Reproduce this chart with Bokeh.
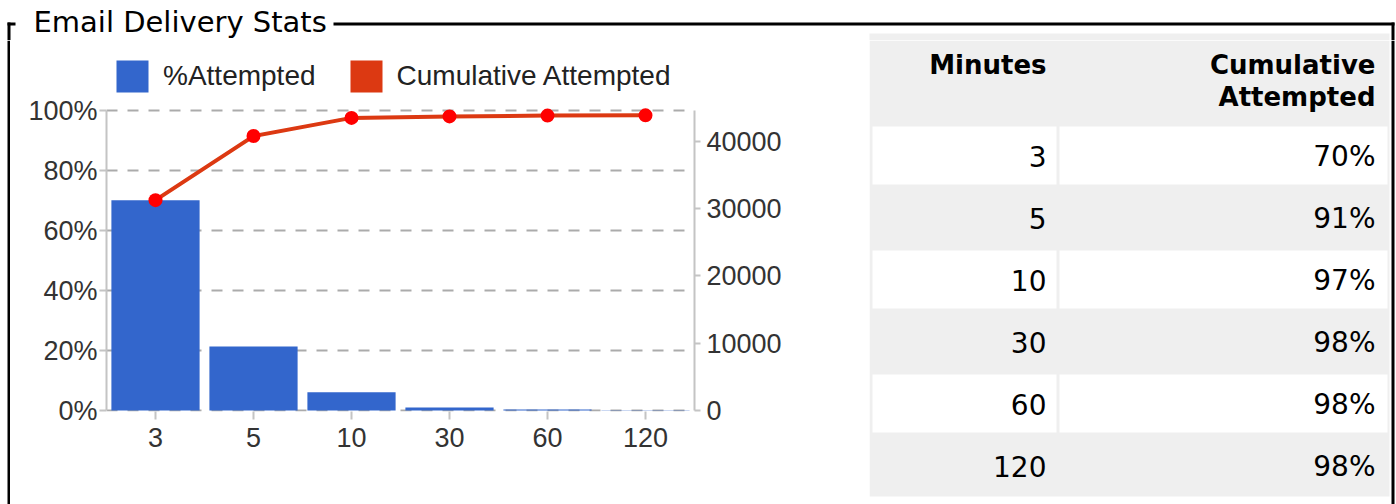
from bokeh.plotting import figure
from bokeh.models import (ColumnDataSource, FactorRange, Range1d, LinearAxis, FixedTicker,
                          PrintfTickFormatter, Legend, LegendItem)
from bokeh.layouts import row, column
from bokeh.core.properties import value
from bokeh.embed import file_html
from bokeh.resources import INLINE

# ---------------- data ----------------
title_text = "Email Delivery Stats"
minutes = ["3", "5", "10", "30", "60", "120"]
pct_attempted = [70.1, 21.3, 6.1, 1.0, 0.3, 0.1]                 # bars, left axis (%)
cumulative_attempted = [31270, 40800, 43500, 43720, 43840, 43880]  # line, right axis (count)
count_axis_max = 44600
pct_ticks = [0, 20, 40, 60, 80, 100]
count_ticks = [0, 10000, 20000, 30000, 40000]
series_names = ["%Attempted", "Cumulative Attempted"]
table_columns = ["Minutes", "Cumulative Attempted"]
table_cumulative = ["70%", "91%", "97%", "98%", "98%", "98%"]

# ---------------- styles ----------------
CHART_FONT = "Liberation Sans"
TABLE_FONT = "DejaVu Sans"
BAR_COLOR = "#3366cc"
LINE_COLOR = "#dc3912"
POINT_COLOR = "#ff0000"
AXIS_GREY = "#c4c4c4"
GRID_GREY = "#ababab"
TEXT_GREY = "#333333"
ROW_GREY = "#efefef"
PAD_LOW = 1.0 / 3.0   # keeps the 0% gridline inside the frame
PAD_HIGH = 18.0       # room above 100% for the legend


def canvas(x0, x1, y0, y1):
    f = figure(width=x1 - x0, height=y1 - y0, x_range=Range1d(x0, x1), y_range=Range1d(y1, y0),
               x_axis_type=None, y_axis_type=None, toolbar_location=None, output_backend="svg",
               min_border=0, outline_line_color=None, title=None)
    f.background_fill_color = "white"
    f.border_fill_color = "white"
    return f


# ---------------- top strip: fieldset legend and top edge ----------------
top = canvas(0, 1396, 0, 40)
top.quad(left=[7, 333, 7, 1391], right=[15, 1394, 10, 1394], top=[22, 22, 22, 22],
         bottom=[25, 25, 40, 40], fill_color="black", line_color=None)
top.quad(left=[869], right=[1389], top=[33], bottom=[40], fill_color=ROW_GREY, line_color=None)
top.text(x=[33], y=[21.5], text=[title_text], text_align="left", text_baseline="middle",
         text_font=value(TABLE_FONT), text_font_size=value("29px"), text_color="black")

# ---------------- side edges ----------------
left_border = canvas(0, 10, 40, 504)
left_border.quad(left=[7], right=[10], top=[40], bottom=[504], fill_color="black", line_color=None)

right_border = canvas(1390, 1396, 40, 504)
right_border.quad(left=[1391], right=[1394], top=[40], bottom=[504], fill_color="black", line_color=None)

# ---------------- chart ----------------
src = ColumnDataSource(dict(minutes=minutes, pct=pct_attempted, cum=cumulative_attempted))

p = figure(width=859, height=464, x_range=FactorRange(factors=minutes),
           y_range=Range1d(-PAD_LOW, 100 + PAD_HIGH),
           toolbar_location=None, output_backend="svg", title=None,
           min_border_left=96, min_border_right=175, min_border_top=16, min_border_bottom=93,
           outline_line_color=None)
p.background_fill_color = "white"
p.border_fill_color = "white"
k = count_axis_max / 100.0
p.extra_y_ranges = {"count": Range1d(-PAD_LOW * k, count_axis_max + PAD_HIGH * k)}

bars = p.vbar(x="minutes", top="pct", width=0.9, source=src, fill_color=BAR_COLOR, line_color=None)
# zero-height bars: invisible in the plot, give the legend its square swatch for the line series
swatch = p.vbar(x="minutes", top=0, bottom=0, width=0.9, source=src, y_range_name="count",
                fill_color=LINE_COLOR, line_color=None)
p.line(x="minutes", y="cum", source=src, y_range_name="count", line_color=LINE_COLOR, line_width=4)
p.scatter(x="minutes", y="cum", source=src, y_range_name="count", size=14,
          fill_color=POINT_COLOR, line_color=None)

# grid
p.xgrid.visible = False
p.ygrid.ticker = FixedTicker(ticks=pct_ticks)
p.ygrid.grid_line_color = GRID_GREY
p.ygrid.grid_line_width = 2
p.ygrid.grid_line_dash = "11 10"

# left axis
ly = p.yaxis[0]
ly.ticker = FixedTicker(ticks=pct_ticks)
ly.formatter = PrintfTickFormatter(format="%d%%")
ly.bounds = (0, 100)
ly.axis_line_color = AXIS_GREY
ly.axis_line_width = 2
ly.major_tick_line_color = AXIS_GREY
ly.major_tick_line_width = 2
ly.major_tick_in = 0
ly.major_tick_out = 7
ly.minor_tick_line_color = None
ly.major_label_standoff = 2
ly.major_label_text_font = CHART_FONT
ly.major_label_text_font_size = "27px"
ly.major_label_text_color = TEXT_GREY

# right axis
ry = LinearAxis(y_range_name="count", ticker=FixedTicker(ticks=count_ticks),
                formatter=PrintfTickFormatter(format="%d"), bounds=(0, count_axis_max))
ry.axis_line_color = AXIS_GREY
ry.axis_line_width = 2
ry.major_tick_line_color = AXIS_GREY
ry.major_tick_line_width = 2
ry.major_tick_in = 0
ry.major_tick_out = 6
ry.minor_tick_line_color = None
ry.major_label_standoff = 6
ry.major_label_text_font = CHART_FONT
ry.major_label_text_font_size = "27px"
ry.major_label_text_color = TEXT_GREY
p.add_layout(ry, "right")

# x axis
xa = p.xaxis[0]
xa.axis_line_color = None
xa.major_tick_line_color = AXIS_GREY
xa.major_tick_line_width = 2
xa.major_tick_in = 0
xa.major_tick_out = 8
xa.minor_tick_line_color = None
xa.major_label_standoff = 8
xa.major_label_text_font = CHART_FONT
xa.major_label_text_font_size = "27px"
xa.major_label_text_color = TEXT_GREY

legend = Legend(items=[LegendItem(label=series_names[0], renderers=[bars]),
                       LegendItem(label=series_names[1], renderers=[swatch])],
                orientation="horizontal", location=(6, 315),
                glyph_width=40, glyph_height=40, label_standoff=11, spacing=30,
                padding=0, margin=0, border_line_color=None, background_fill_alpha=0,
                label_text_font=CHART_FONT, label_text_font_size="28px", label_text_color="#222222")
p.add_layout(legend)

# ---------------- table ----------------
t = canvas(869, 1390, 40, 504)
t.quad(left=[869], right=[1389], top=[40], bottom=[496], fill_color=ROW_GREY, line_color=None)

ROW0, PITCH, CELL_H = 126, 62, 58
COL1 = (872, 1056)
COL2 = (1059, 1387)
TX1, TX2 = 1046, 1375

white_rows = [i for i in range(len(minutes)) if i % 2 == 0]
lefts, rights, tops, bottoms = [], [], [], []
for i in white_rows:
    y0 = ROW0 + PITCH * i
    for c in (COL1, COL2):
        lefts.append(c[0]); rights.append(c[1]); tops.append(y0); bottoms.append(y0 + CELL_H)
t.quad(left=lefts, right=rights, top=tops, bottom=bottoms, fill_color="white", line_color=None)

head2 = table_columns[1].split(" ")
t.text(x=[TX1, TX2, TX2], y=[64, 64, 96.5], text=[table_columns[0]] + head2,
       text_align="right", text_baseline="middle", text_font=value(TABLE_FONT),
       text_font_size=value("26px"), text_font_style="bold", text_color="black")

ys = [ROW0 + PITCH * i + 30 for i in range(len(minutes))]
t.text(x=[TX1] * len(minutes), y=ys, text=minutes, text_align="right", text_baseline="middle",
       text_font=value(TABLE_FONT), text_font_size=value("28px"), text_color="black")
t.text(x=[TX2] * len(minutes), y=ys, text=table_cumulative, text_align="right",
       text_baseline="middle", text_font=value(TABLE_FONT), text_font_size=value("28px"),
       text_color="black")

layout = column(top, row(left_border, column(p), t, right_border))

open("out.html", "w").write(file_html(layout, INLINE, title="Email Delivery Stats"))
